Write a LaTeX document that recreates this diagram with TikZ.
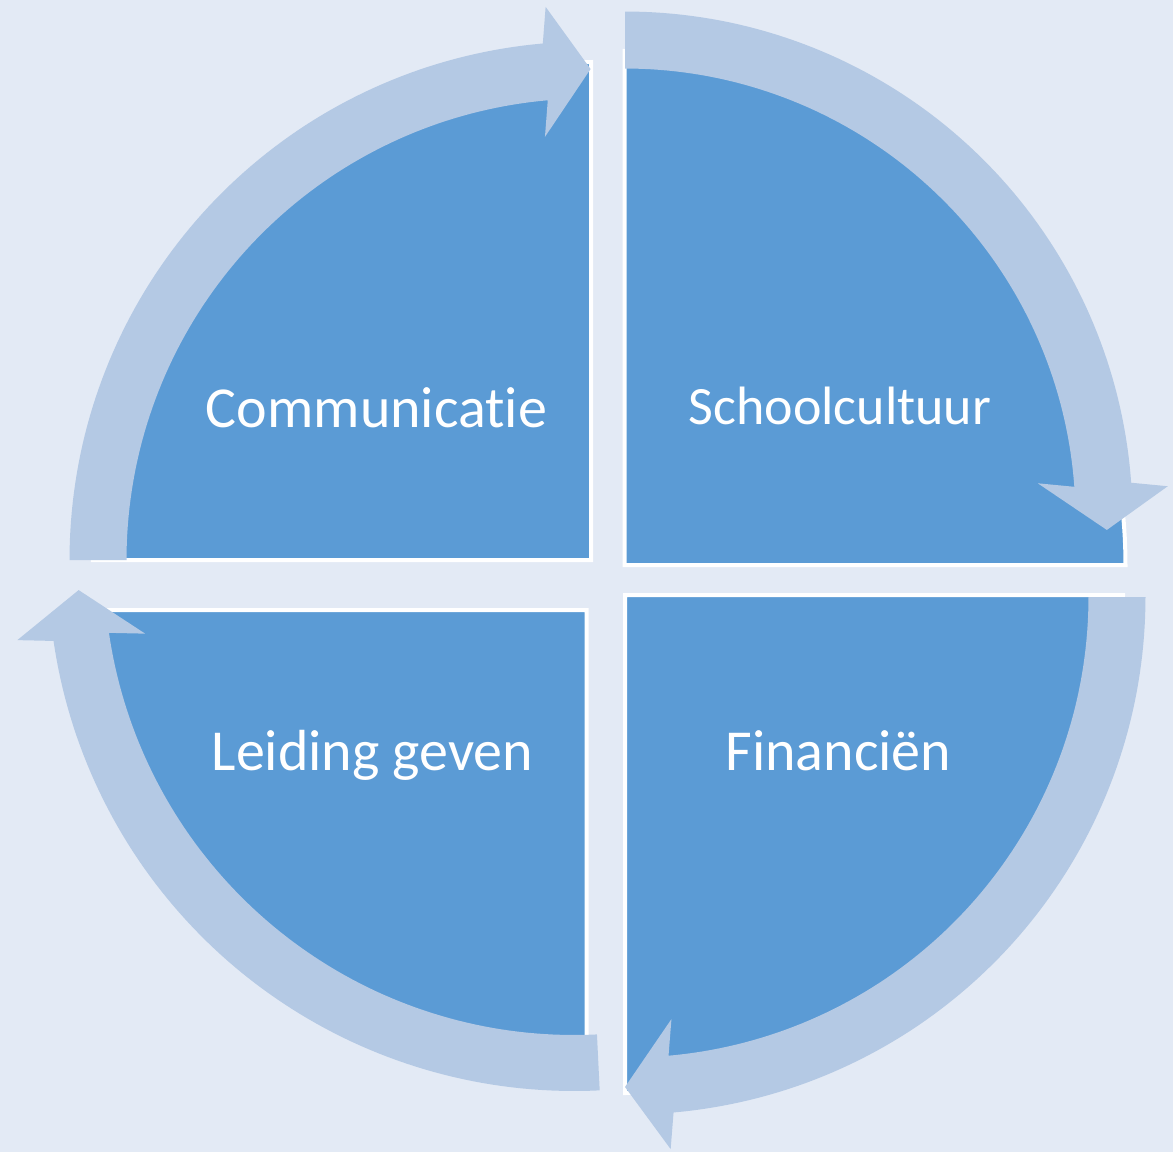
\documentclass[tikz,border=0pt]{standalone}
\usepackage{fontspec}
\setmainfont[Ligatures=NoCommon]{Carlito}
\usepackage{tikz}
\usetikzlibrary{calc}

\definecolor{achtergrondblauw}{RGB}{227,234,245}
\definecolor{kwadrantblauw}{RGB}{91,155,213}
\definecolor{pijlblauw}{RGB}{180,201,228}

\begin{document}
\begin{tikzpicture}[x=0.5pt,y=-0.5pt,
  kwadrant/.style={fill=\colkwadrant,draw=white,line width=2pt},
  tekst/.style={anchor=base,inner sep=0pt,text=white,font=\fontsize{29}{35}\selectfont}]

%Kleuren
\def \colachtergrond{achtergrondblauw}
\def \colkwadrant{kwadrantblauw}
\def \colpijl{pijlblauw}

%Afmetingen van de pijlen
\def \bp{28.5}
\def \kp{65}

%Achtergrond
\fill[\colachtergrond] (0,0) rectangle (1173,1152);
\useasboundingbox (0,0) rectangle (1173,1152);

%%% Kwadranten %%%
\draw[kwadrant] (591,560) -- plot[domain=180:270,samples=90] ({591+498*cos(\x)},{560+498*sin(\x)}) -- cycle;
\draw[kwadrant] (624.5,565) -- plot[domain=270:360,samples=90] ({624.5+501*cos(\x)},{565+514*sin(\x)}) -- cycle;
\draw[kwadrant] (625,595) -- plot[domain=0:90,samples=90] ({625+498*cos(\x)},{595+498*sin(\x)}) -- cycle;
\draw[kwadrant] (586.5,610) -- plot[domain=90:180,samples=90] ({586.5+500*cos(\x)},{610+455*sin(\x)}) -- cycle;

%%% Pijlen %%%
%Linksboven
\fill[\colpijl] plot[domain=180:265,samples=80] ({588+(490+\bp)*cos(\x)},{560+(490+\bp)*sin(\x)})
  -- ({588+490*cos(265)+\kp*cos(270.3)},{560+490*sin(265)+\kp*sin(270.3)})
  -- ({588+491*cos(270.3)},{560+491*sin(270.3)})
  -- ({588+490*cos(265)-\kp*cos(270.3)},{560+490*sin(265)-\kp*sin(270.3)})
  -- plot[domain=265:180,samples=80] ({588+(490-\bp)*cos(\x)},{560+(490-\bp)*sin(\x)}) -- cycle;

%Rechtsboven
\fill[\colpijl] plot[domain=270:355.9,samples=80] ({625+(479+\bp)*cos(\x)},{519+(479+\bp)*sin(\x)})
  -- ({625+479*cos(355.9)+\kp*cos(361.3)},{519+479*sin(355.9)+\kp*sin(361.3)})
  -- ({625+482*cos(361.3)},{519+482*sin(361.3)})
  -- ({625+479*cos(355.9)-\kp*cos(361.3)},{519+479*sin(355.9)-\kp*sin(361.3)})
  -- plot[domain=355.9:270,samples=80] ({625+(479-\bp)*cos(\x)},{519+(479-\bp)*sin(\x)}) -- cycle;

%Rechtsonder
\fill[\colpijl] plot[domain=0:84.95,samples=80] ({628+(489+\bp)*cos(\x)},{597+(489+\bp)*sin(\x)})
  -- ({628+489*cos(84.95)+\kp*cos(90.35)},{597+489*sin(84.95)+\kp*sin(90.35)})
  -- ({628+490*cos(90.35)},{597+490*sin(90.35)})
  -- ({628+489*cos(84.95)-\kp*cos(90.35)},{597+489*sin(84.95)-\kp*sin(90.35)})
  -- plot[domain=84.95:0,samples=80] ({628+(489-\bp)*cos(\x)},{597+(489-\bp)*sin(\x)}) -- cycle;

%Linksonder
\fill[\colpijl] plot[domain=87.2:171.7,samples=80] ({574+(498+28)*cos(\x)},{565+(498+28)*sin(\x)})
  -- ({574+498*cos(171.7)+64*cos(177.1)},{565+498*sin(171.7)+64*sin(177.1)})
  -- ({574+496*cos(177.1)},{565+496*sin(177.1)})
  -- ({574+498*cos(171.7)-64*cos(177.1)},{565+498*sin(171.7)-64*sin(177.1)})
  -- plot[domain=171.7:87.2,samples=80] ({574+(498-28)*cos(\x)},{565+(498-28)*sin(\x)}) -- cycle;

%%% Teksten %%%
\node[tekst] (communicatie) at (376.5,427) {Communicatie};
\node[tekst,font=\fontsize{27}{33}\selectfont] (schoolcultuur) at (840,424) {Schoolcultuur};
\node[tekst] (leiding) at (372.5,770) {Leiding geven};
\node[tekst] (financien) at (838.5,770) {Financiën};

\end{tikzpicture}
\end{document}
